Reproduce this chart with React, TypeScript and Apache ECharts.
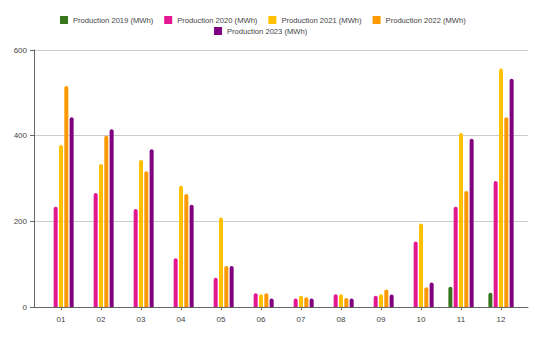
import React, { useEffect, useRef } from "react";
import * as echarts from "echarts";

const months = ["01", "02", "03", "04", "05", "06", "07", "08", "09", "10", "11", "12"];
const seriesNames = [
  "Production 2019 (MWh)",
  "Production 2020 (MWh)",
  "Production 2021 (MWh)",
  "Production 2022 (MWh)",
  "Production 2023 (MWh)",
];
const prod2019 = [null, null, null, null, null, null, null, null, null, null, 47, 33];
const prod2020 = [234, 266, 229, 114, 68, 32, 20, 30, 26, 153, 234, 294];
const prod2021 = [378, 334, 343, 283, 209, 30, 26, 30, 30, 195, 406, 557];
const prod2022 = [516, 400, 317, 264, 96, 32, 23, 21, 41, 46, 271, 443];
const prod2023 = [443, 415, 368, 239, 96, 20, 20, 20, 29, 57, 393, 533];
const yTicks = [0, 200, 400, 600];

const colors = ["#38761d", "#e3178f", "#ffc000", "#ff9900", "#800080"];
const allData = [prod2019, prod2020, prod2021, prod2022, prod2023];

export default function App() {
  const ref = useRef<HTMLDivElement>(null);
  useEffect(() => {
    document.body.style.margin = "0";
    if (!ref.current) return;
    const chart = echarts.init(ref.current, null, { renderer: "svg" });
    const font = "Liberation Sans, Arial, sans-serif";
    chart.setOption({
      animation: false,
      textStyle: { fontFamily: font },
      legend: [
        {
          data: seriesNames.slice(0, 4),
          left: 60,
          top: 16,
          padding: 0,
          itemWidth: 8,
          itemHeight: 8,
          itemGap: 11,
          icon: "rect",
          textStyle: { fontSize: 7.6, color: "#444", fontFamily: font },
        },
        {
          data: seriesNames.slice(4),
          left: 214,
          top: 27,
          padding: 0,
          itemWidth: 8,
          itemHeight: 8,
          icon: "rect",
          textStyle: { fontSize: 7.6, color: "#444", fontFamily: font },
        },
      ],
      grid: [
        { left: 34, right: 14, top: 50, bottom: 33 },
        { left: 41, right: 21, top: 50, bottom: 33 },
      ],
      xAxis: [
        {
          gridIndex: 0,
          type: "value",
          min: 0,
          max: 1,
          axisLine: { show: true, onZero: false, lineStyle: { color: "#666" } },
          axisTick: { show: false },
          axisLabel: { show: false },
          splitLine: { show: false },
        },
        {
          gridIndex: 1,
          type: "category",
          data: months,
          axisLine: { show: false },
          axisTick: { show: true, alignWithLabel: true, length: 3, lineStyle: { color: "#666" } },
          axisLabel: { fontSize: 8, color: "#444", margin: 8, fontFamily: font },
          splitLine: { show: false },
        },
      ],
      yAxis: [
        {
          gridIndex: 0,
          type: "value",
          min: yTicks[0],
          max: yTicks[yTicks.length - 1],
          interval: 200,
          axisLine: { show: true, lineStyle: { color: "#666" } },
          axisTick: { show: true, length: 4, lineStyle: { color: "#666" } },
          axisLabel: { fontSize: 8, color: "#444", margin: 7, fontFamily: font },
          splitLine: { show: true, lineStyle: { color: "#ccc", width: 1 } },
        },
        {
          gridIndex: 1,
          type: "value",
          min: yTicks[0],
          max: yTicks[yTicks.length - 1],
          interval: 200,
          show: false,
          splitLine: { show: false },
        },
      ],
      series: seriesNames.map((name, i) => ({
        name,
        type: "bar",
        xAxisIndex: 1,
        yAxisIndex: 1,
        data: allData[i],
        barWidth: 4,
        barGap: "33%",
        itemStyle: { color: colors[i], borderRadius: [2, 2, 0, 0] },
      })),
    });
    return () => chart.dispose();
  }, []);
  return <div ref={ref} style={{ width: 542, height: 340 }} />;
}
